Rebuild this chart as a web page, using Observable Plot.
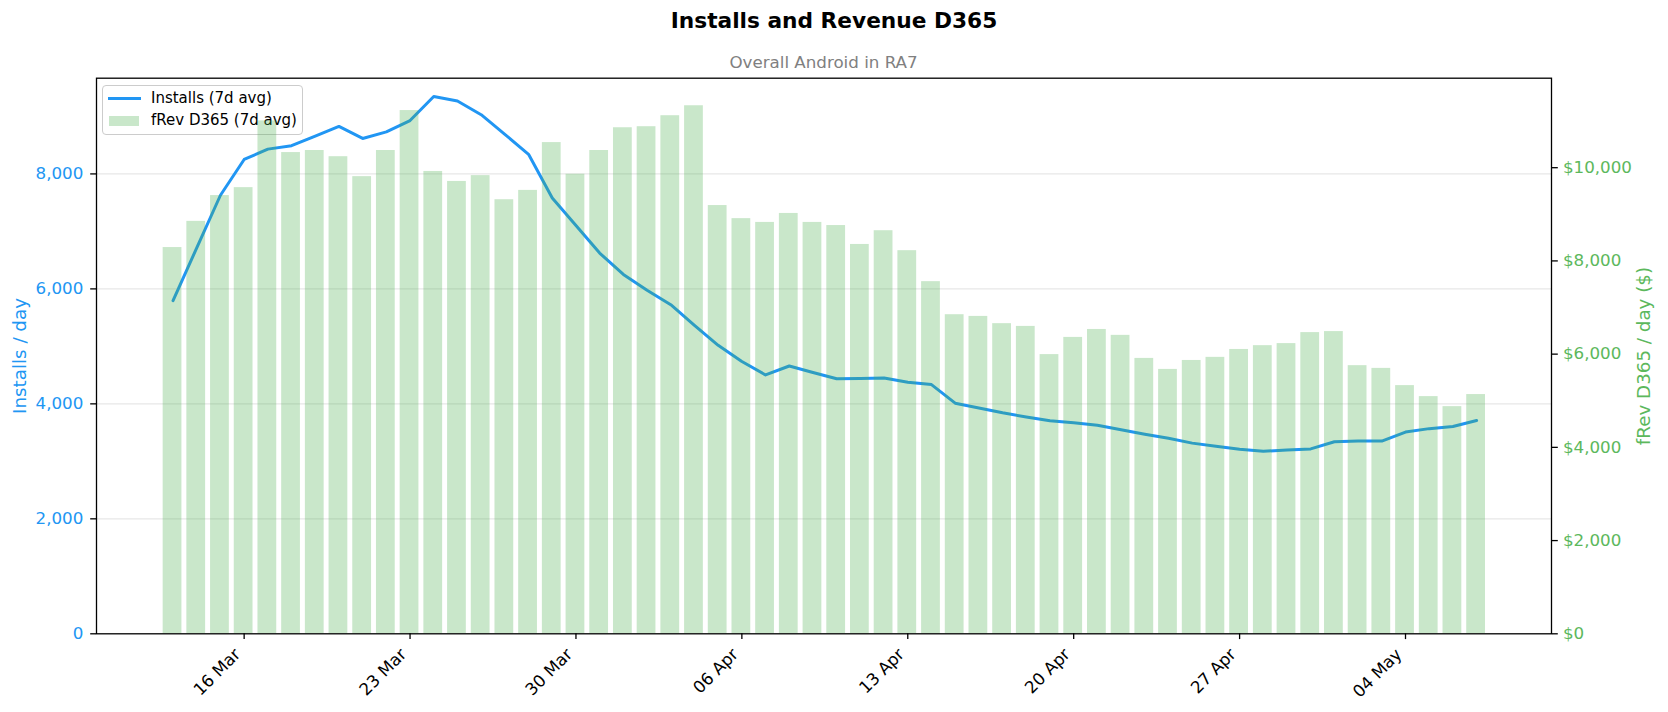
<!DOCTYPE html>
<html>
<head>
<meta charset="utf-8">
<script src="https://cdn.jsdelivr.net/npm/d3@7"></script>
<script src="https://cdn.jsdelivr.net/npm/@observablehq/plot@0.6"></script>
<style>
html, body { margin: 0; padding: 0; background: #fff; }
#page { position: relative; width: 1668px; height: 712px; font-family: "DejaVu Sans", sans-serif; overflow: hidden; background: #fff; }
#title { position: absolute; left: 0; width: 1668px; top: 10.2px; text-align: center; font-size: 21.7px; line-height: 21.7px; font-weight: bold; color: #000; }
#subtitle { position: absolute; left: 96px; width: 1455px; top: 53.7px; text-align: center; font-size: 16.7px; line-height: 16.7px; color: #808080; }
#chart { position: absolute; left: 0; top: 72px; z-index: 1; }
#legend { position: absolute; left: 102.3px; top: 85.3px; width: 199px; height: 48px; border: 1px solid #cccccc; border-radius: 4px; background: rgba(255,255,255,0.8); z-index: 0; font-size: 15px; line-height: 15px; color: #000; }
.lg-line { position: absolute; left: 4.4px; top: 10.5px; width: 33px; height: 3px; background: #2196F3; }
.lg-patch { position: absolute; left: 5.7px; top: 30px; width: 30px; height: 10px; background: #4CAF50; opacity: 0.3; }
.lg-text { position: absolute; left: 47.7px; white-space: nowrap; }
</style>
</head>
<body>
<div id="page">
  <div id="title">Installs and Revenue D365</div>
  <div id="subtitle">Overall Android in RA7</div>
  <div id="legend">
    <div class="lg-line"></div>
    <div class="lg-text" style="top:5.2px">Installs (7d avg)</div>
    <div class="lg-patch"></div>
    <div class="lg-text" style="top:27.2px">fRev D365 (7d avg)</div>
  </div>
  <div id="chart"></div>
</div>
<script>
const dates = [
  "2026-03-13","2026-03-14","2026-03-15","2026-03-16","2026-03-17","2026-03-18","2026-03-19",
  "2026-03-20","2026-03-21","2026-03-22","2026-03-23","2026-03-24","2026-03-25","2026-03-26",
  "2026-03-27","2026-03-28","2026-03-29","2026-03-30","2026-03-31","2026-04-01","2026-04-02",
  "2026-04-03","2026-04-04","2026-04-05","2026-04-06","2026-04-07","2026-04-08","2026-04-09",
  "2026-04-10","2026-04-11","2026-04-12","2026-04-13","2026-04-14","2026-04-15","2026-04-16",
  "2026-04-17","2026-04-18","2026-04-19","2026-04-20","2026-04-21","2026-04-22","2026-04-23",
  "2026-04-24","2026-04-25","2026-04-26","2026-04-27","2026-04-28","2026-04-29","2026-04-30",
  "2026-05-01","2026-05-02","2026-05-03","2026-05-04","2026-05-05","2026-05-06","2026-05-07"
];

const installs = [
  5796, 6713, 7629, 8251, 8431, 8491, 8659,
  8826, 8617, 8731, 8928, 9347, 9269, 9030,
  8689, 8341, 7581, 7102, 6623, 6251, 5976,
  5725, 5365, 5018, 4737, 4503, 4659, 4545,
  4437, 4443, 4449, 4377, 4335, 4012, 3928,
  3844, 3772, 3707, 3671, 3629, 3551, 3473,
  3401, 3317, 3263, 3210, 3174, 3198, 3216,
  3341, 3353, 3353, 3509, 3569, 3605, 3710
];

const revenue = [
  8287, 8848, 9402, 9572, 11004, 10325, 10369,
  10236, 9808, 10369, 11226, 9919, 9705, 9830,
  9313, 9513, 10539, 9860, 10369, 10857, 10879,
  11115, 11329, 9188, 8907, 8826, 9018, 8826,
  8759, 8353, 8648, 8220, 7555, 6846, 6809,
  6654, 6595, 5990, 6359, 6529, 6403, 5908,
  5672, 5864, 5931, 6100, 6182, 6226, 6462,
  6484, 5753, 5694, 5325, 5089, 4874, 5133
];

const xTicks = ["2026-03-16","2026-03-23","2026-03-30","2026-04-06","2026-04-13","2026-04-20","2026-04-27","2026-05-04"];
const xDomain = ["2026-03-09T18:30Z", "2026-05-10T03:50Z"];
const installTicks = [0, 2000, 4000, 6000, 8000];
const revTicks = [0, 2000, 4000, 6000, 8000, 10000];
const installMax = 9665;
const revMax = 11920;

const blue = "#2196F3";
const green = "#5CB85C";
const k = installMax / revMax;

const data = dates.map((d, i) => ({date: new Date(d), installs: installs[i], rev: revenue[i]}));
const fmt = d3.format(",");
const xTickDates = xTicks.map(s => new Date(s));

const chart = Plot.plot({
  width: 1668,
  height: 640,
  marginTop: 5.7,
  marginBottom: 78.7,
  marginLeft: 96,
  marginRight: 117,
  style: {fontFamily: "DejaVu Sans", fontSize: "16.7px", background: "transparent", color: "black"},
  x: {type: "utc", domain: xDomain.map(s => new Date(s))},
  y: {domain: [0, installMax]},
  marks: [
    Plot.gridY(installTicks.filter(v => v > 0), {stroke: "#b0b0b0", strokeOpacity: 0.3, strokeWidth: 1.3}),
    Plot.lineY(data, {x: "date", y: "installs", stroke: blue, strokeWidth: 3, strokeLinejoin: "round"}),
    Plot.rectY(data, {
      x1: d => d3.utcHour.offset(d.date, -9.6),
      x2: d => d3.utcHour.offset(d.date, 9.6),
      y1: 0,
      y2: d => d.rev * k,
      fill: "#4CAF50",
      fillOpacity: 0.3
    }),
    Plot.frame({stroke: "black", strokeWidth: 1.3}),
    // x tick marks only
    Plot.axisX({
      ticks: xTickDates,
      tickSize: 5.8,
      fill: "none",
      stroke: "black",
      strokeWidth: 1.3,
      label: null
    }),
    // x tick labels only (rotated)
    Plot.axisX({
      ticks: xTickDates,
      tickFormat: d3.utcFormat("%d %b"),
      tickRotate: -45,
      tickSize: 0,
      tickPadding: 17.8,
      dx: -6.5,
      fill: "black",
      label: null
    }),
    Plot.axisY({
      anchor: "left", ticks: installTicks, tickFormat: fmt,
      tickSize: 5.8, tickPadding: 7.4, strokeWidth: 1.3,
      fill: blue, stroke: "black", label: null
    }),
    Plot.axisY({
      anchor: "left", ticks: [], label: "Installs / day", labelAnchor: "center", labelArrow: "none",
      labelOffset: 84, fill: blue, fontSize: 18.3
    }),
    Plot.axisY({
      anchor: "right", ticks: revTicks.map(v => v * k), tickFormat: d => "$" + fmt(Math.round(d / k)),
      tickSize: 5.8, tickPadding: 5.6, strokeWidth: 1.3,
      fill: green, stroke: "black", label: null
    }),
    Plot.axisY({
      anchor: "right", ticks: [], label: "fRev D365 / day ($)", labelAnchor: "center", labelArrow: "none",
      labelOffset: 98, fill: green, fontSize: 18.3
    })
  ]
});
document.getElementById("chart").appendChild(chart);
</script>
</body>
</html>
